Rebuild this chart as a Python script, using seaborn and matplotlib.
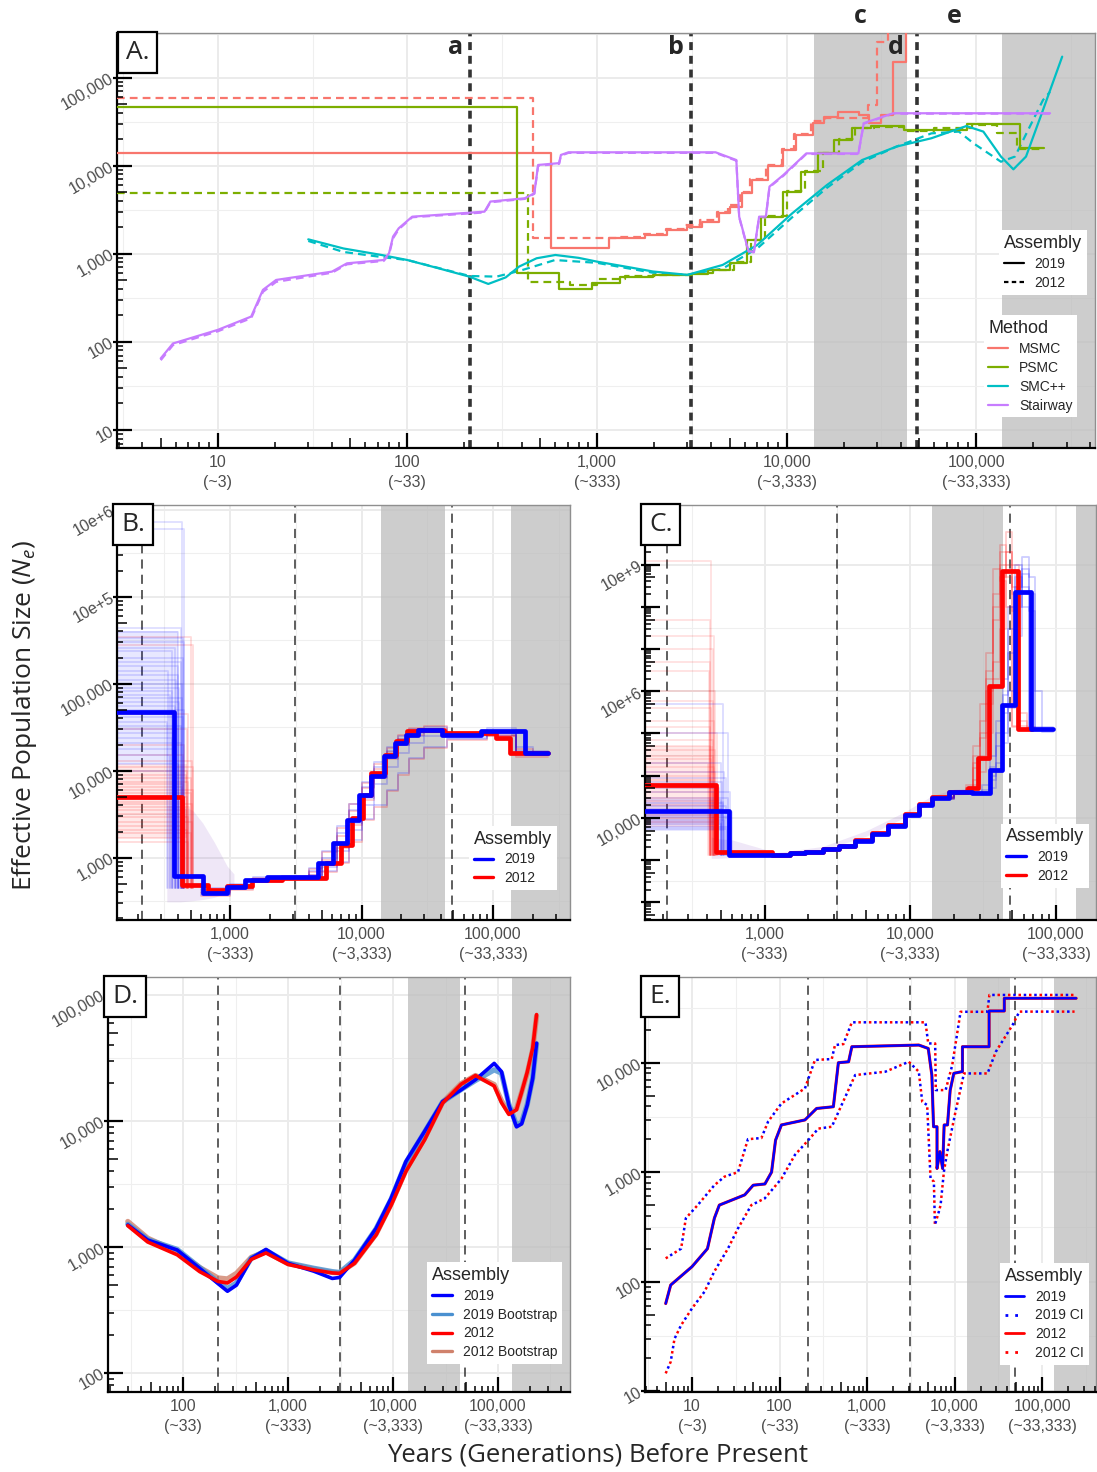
import numpy as np
import seaborn as sns
import matplotlib.pyplot as plt
from matplotlib.lines import Line2D
from matplotlib.ticker import NullFormatter
from matplotlib.transforms import blended_transform_factory as blend

# ------------------------------------------------------------------ data
# time markers (years) and shaded periods shared by all panels
mark_a, mark_b, mark_d = 214, 3125, 48500
zone_c = (14000, 43300)
zone_e = (136000, 5e6)
label_c, label_e = 24600, 76600

# panel A : MSMC (step curves)
msmc19_t = [2.5, 575, 1160, 1800, 2340, 3000, 3560, 4400, 5000, 5800, 6580, 7950, 9600, 11200,
            13800, 15700, 18550, 24000, 27200, 31500, 36600, 42800, 42800]
msmc19_v = [14100, 1155, 1500, 1640, 1860, 2040, 2320, 2880, 3440, 4860, 6890, 10000, 15000, 22400,
            30300, 36000, 41100, 37700, 30300, 37700, 151000, 1e7, 1e7]
msmc12_t = [2.5, 462, 1300, 1750, 2300, 2900, 3500, 4300, 4900, 5700, 6400, 7800, 9400, 11000,
            13500, 16000, 27000, 29800, 34400, 34400]
msmc12_v = [59300, 1500, 1560, 1700, 1900, 2100, 2400, 2950, 3600, 5000, 7000, 10300, 15500, 23000,
            32000, 35000, 49000, 254000, 1e7, 1e7]
# panel A : PSMC (step curves)
psmc19_t = [2.5, 380, 630, 938, 1320, 1970, 3130, 3870, 5000, 6170, 7300, 9600, 11900, 14700,
            17800, 22000, 27700, 41500, 89000, 171000, 229000]
psmc19_v = [46000, 611, 395, 470, 550, 575, 590, 656, 780, 1440, 2640, 5080, 8570, 13800,
            19600, 26600, 28200, 25500, 29800, 15800, 15800]
psmc12_t = [2.5, 431, 720, 1000, 1400, 2100, 3300, 4100, 5300, 6500, 7700, 10100, 12500, 15500,
            18800, 23000, 29000, 41500, 60000, 95000, 128000, 165000, 229000]
psmc12_v = [4860, 483, 440, 520, 560, 580, 600, 660, 800, 1450, 2700, 5100, 8700, 14000,
            20000, 26500, 27500, 25000, 26500, 29000, 23500, 15500, 15500]
# panel A : SMC++ (smooth curves)
smc19_x = [30, 46, 73, 100, 146, 212, 267, 330, 388, 480, 603, 800, 1000, 1500, 1970, 3000, 4600,
           7000, 10700, 16300, 25000, 38000, 58000, 88700, 109000, 135000, 157000, 183000, 225000, 284000]
smc19_y = [1460, 1150, 970, 850, 685, 551, 455, 540, 716, 890, 970, 900, 815, 700, 630, 577, 748,
           1260, 2880, 6030, 11600, 16500, 20500, 28200, 24400, 12700, 9100, 12700, 43000, 173000]
smc12_x = [30, 46, 73, 100, 146, 213, 295, 390, 600, 1000, 1970, 3000, 4600, 7000, 10700, 16300,
           25000, 38000, 58000, 81000, 96600, 135000, 160000, 225000, 245000]
smc12_y = [1400, 1050, 920, 850, 690, 560, 551, 640, 850, 790, 610, 577, 680, 1150, 2600, 5600,
           11000, 16500, 23300, 24400, 18000, 11100, 12700, 55700, 69000]
# panel A : Stairway
stair_x = [5.0, 5.8, 10, 15, 17.3, 20.3, 40, 48, 75, 80, 84, 90, 106, 255, 274, 416, 467, 489, 631,
           645, 707, 4220, 5430, 5620, 6300, 6720, 7160, 7770, 8120, 9620, 12700, 23900, 25500, 36500, 245000]
stair19_y = [65, 96, 137, 194, 390, 505, 628, 780, 851, 1014, 1570, 1950, 2640, 3010, 3920, 4270, 4870,
             10200, 10700, 13250, 14200, 14200, 11600, 2640, 1060, 1060, 2640, 2640, 5800, 7850, 13800,
             13800, 30400, 39400, 39400]
stair12_y = [62, 92, 132, 186, 370, 480, 610, 760, 830, 980, 1500, 1900, 2600, 2950, 3850, 4200, 4800,
             10000, 10500, 13000, 14000, 14000, 11400, 2600, 1040, 1040, 2600, 2600, 5700, 7700, 13600,
             13600, 30000, 39000, 39000]

# panel B : PSMC with bootstraps
b19_t = [100, 374, 627, 940, 1300, 1900, 4700, 6100, 7700, 9500, 11700, 14700, 17900, 21600, 27000,
         41000, 81000, 176000, 260000]
b19_v = [47500, 614, 388, 462, 550, 600, 860, 1460, 2720, 5300, 8600, 14600, 21000, 26000, 29700,
         26000, 28500, 16000, 16000]
b12_t = [100, 431, 680, 950, 1470, 2500, 5400, 7000, 8500, 10300, 11700, 15200, 18400, 22300, 27000,
         42500, 105000, 135000, 260000]
b12_v = [4970, 485, 420, 470, 560, 590, 860, 1400, 2840, 5300, 9400, 15300, 21800, 28400, 29700,
         27200, 24000, 16000, 16000]
# bootstrap replicates, oldest plateau level and the time of its drop
b19_boot_lvl = [7.2e6, 6.0e6, 4.4e5, 3.9e5, 3.4e5, 3.0e5, 2.6e5, 2.4e5, 2.0e5, 1.8e5, 1.6e5, 1.4e5,
                1.25e5, 1.1e5, 1.0e5, 9.0e4, 8.2e4, 7.5e4, 6.8e4, 6.2e4, 5.5e4, 5.0e4, 4.2e4, 3.6e4,
                3.3e4, 3.0e4, 2.7e4, 2.4e4, 2.1e4, 1.8e4, 1.5e4, 1.2e4, 1.0e4]
b19_boot_drop = [430, 450, 420, 400, 440, 450, 380, 360, 440, 420, 400, 340, 400, 390, 430, 410, 360,
                 350, 430, 410, 380, 450, 440, 330, 420, 400, 370, 360, 420, 390, 350, 400, 380]
b12_boot_lvl = [3.5e5, 2.8e5, 4.5e4, 3.0e4, 2.0e4, 1.5e4, 1.3e4, 1.1e4, 1.0e4, 9.0e3, 8.2e3, 7.5e3,
                7.0e3, 6.5e3, 6.0e3, 5.5e3, 5.0e3, 4.4e3, 4.1e3, 3.8e3, 3.5e3, 3.2e3, 2.9e3, 2.6e3,
                2.3e3, 2.1e3, 1.9e3, 1.7e3, 1.5e3]
b12_boot_drop = [500, 520, 480, 470, 450, 440, 510, 520, 470, 460, 500, 480, 440, 430, 520, 500, 470,
                 450, 510, 490, 460, 420, 480, 510, 450, 470, 500, 440, 480]
b_floor = 450
b19_haze = (1.2e4, 4.0e5, 400)      # low, high, end time of the dense left band
b12_haze = (1.7e3, 1.2e4, 470)
b_env_t = [330, 420, 520, 620, 760, 950, 1070]
b_env_lo = [310, 310, 320, 330, 350, 400, 450]
b_env_hi = [4000, 4000, 3500, 2500, 1500, 800, 650]
# bootstrap replicates after the drop (same time grid)
b_boot_t = [600, 1000, 1500, 2500, 4000, 5000, 6500, 8000, 10000, 12500, 15500, 19000, 23000, 30000,
            45000, 90000, 150000, 200000, 260000]
b19_boot_mid = [
    [420, 480, 560, 600, 700, 1000, 1900, 3500, 6500, 11000, 17000, 23000, 27000, 29000, 26000, 29000, 17000, 16000, 16000],
    [380, 450, 540, 590, 640, 850, 1400, 2500, 4800, 8500, 14000, 20000, 25000, 28000, 25000, 27000, 16000, 15500, 15500],
    [400, 470, 550, 580, 600, 700, 900, 1600, 2800, 4000, 6000, 9500, 14000, 19000, 23000, 27000, 15000, 15000, 15000],
    [450, 500, 600, 620, 760, 1200, 2300, 4200, 7500, 12500, 19000, 25000, 30000, 32000, 27000, 31000, 19000, 17000, 17000],
    [370, 440, 520, 570, 620, 780, 1200, 2100, 4000, 7000, 11000, 16000, 21000, 25000, 24000, 26000, 15500, 15000, 15000],
]
b12_boot_mid = [
    [400, 460, 540, 590, 680, 950, 1800, 3400, 6300, 10500, 16500, 23000, 28000, 30000, 27000, 26000, 16500, 16000, 16000],
    [360, 430, 520, 580, 630, 820, 1300, 2400, 4600, 8200, 13500, 20000, 26000, 29000, 26000, 25000, 15500, 15500, 15500],
    [390, 460, 540, 570, 590, 690, 880, 1500, 2700, 3800, 5800, 9000, 13500, 18500, 22500, 25000, 14500, 14500, 14500],
    [430, 490, 590, 610, 740, 1150, 2200, 4100, 7300, 12000, 18500, 25500, 31000, 33000, 28000, 28000, 18000, 16500, 16500],
]

# panel C : MSMC with bootstraps
c19_t = [140, 566, 1150, 1500, 1900, 2500, 3240, 4200, 5450, 7000, 9200, 11500, 14000, 18300, 26500,
         35000, 42400, 52500, 67600, 96000]
c19_v = [14400, 1290, 1330, 1450, 1550, 1800, 2100, 2900, 4240, 6500, 11600, 20000, 29000, 41700, 38000,
         136000, 4.8e6, 2.2e9, 1.26e6, 1.26e6]
c12_t = [140, 464, 1120, 1500, 1900, 2500, 3240, 4200, 5450, 7000, 9200, 11500, 14000, 18300, 25000,
         29300, 34600, 42500, 55000, 68000]
c12_v = [60000, 1550, 1330, 1450, 1550, 1800, 2100, 3000, 4400, 6900, 12200, 21000, 31000, 42000, 50000,
         258000, 1.3e7, 7.2e9, 1.26e6, 1.26e6]
c12_boot_lvl = [1.2e10, 5e8, 2e8, 1e8, 5e7, 3e7, 1e7, 6e6, 4e6, 2e6, 1.4e6, 1e6, 7e5, 5e5, 4e5, 3e5,
                2.5e5, 2e5, 1.6e5, 1.2e5, 1e5, 8e4, 6.5e4, 5e4, 4e4, 3e4, 2.5e4, 2e4, 1.5e4, 1.2e4, 1e4, 8e3]
c12_boot_drop = [430, 420, 450, 440, 425, 415, 460, 440, 430, 450, 420, 470, 440, 425, 460, 445, 430,
                 410, 450, 460, 425, 435, 470, 450, 440, 420, 455, 470, 430, 440, 465, 455]
c19_boot_lvl = [5e6, 1e6, 2e5, 1.2e5, 9e4, 7e4, 5e4, 4e4, 3e4, 2.6e4, 2.2e4, 1.9e4, 1.6e4, 1.4e4, 1.2e4,
                1.05e4, 9e3, 8e3, 7e3, 6.2e3, 5.5e3]
c19_boot_drop = [520, 560, 500, 530, 540, 510, 490, 580, 560, 500, 520, 540, 510, 600, 530, 560, 530,
                 500, 500, 570, 550]
c_floor = 1300
c12_haze = (6e3, 5e5, 440)
c19_haze = (5e3, 2.5e4, 530)
c_env_t = [430, 480, 600, 1200, 2500, 5000, 9000, 14000, 20000, 24000]
c_env_lo = [1100, 1100, 1150, 1250, 1700, 3700, 10000, 25000, 35000, 36000]
c_env_hi = [3500, 3200, 3000, 1500, 2100, 5000, 13500, 33000, 48000, 50000]
# bootstrap replicates around the ancient peak
c12_boot_t = [14000, 20000, 24000, 27000, 30000, 33000, 37000, 41000, 45000, 50000, 56000, 63000, 72000]
c12_boot_peak = [
    [29000, 42000, 45000, 1.5e5, 8e5, 3e7, 2e9, 3e10, 2e10, 2e9, 1.3e6, 1.3e6, 1.3e6],
    [31000, 43000, 52000, 3e5, 2e6, 1e7, 1e9, 1e10, 5e9, 1.5e6, 1.2e6, 1.2e6, 1.2e6],
    [30000, 41000, 48000, 80000, 3e5, 5e6, 5e7, 5e9, 6e10, 1e10, 2e6, 1.4e6, 1.4e6],
    [32000, 44000, 60000, 5e5, 5e6, 8e7, 8e9, 4e9, 1e9, 1.4e6, 1.3e6, 1.3e6, 1.3e6],
    [28000, 40000, 43000, 60000, 1.2e5, 1e6, 2e7, 3e8, 2e10, 3e9, 3e6, 1.3e6, 1.3e6],
    [30000, 42000, 50000, 2e5, 1e6, 2e7, 5e8, 2e10, 1e10, 8e8, 1.5e6, 1.3e6, 1.3e6],
]
c19_boot_t = [14000, 20000, 26000, 31000, 35000, 39000, 43000, 47000, 52000, 58000, 65000, 72000, 80000, 96000]
c19_boot_peak = [
    [28000, 40000, 37000, 40000, 1e5, 5e5, 3e6, 8e7, 1e10, 3e9, 1.2e6, 1.2e6, 1.2e6, 1.2e6],
    [30000, 42000, 39000, 60000, 3e5, 2e6, 2e7, 1e9, 5e9, 1e9, 8e8, 1.3e6, 1.3e6, 1.3e6],
    [29000, 41000, 38000, 38000, 80000, 2e5, 1e6, 1e7, 1e9, 1.5e10, 2e9, 1e7, 1.3e6, 1.3e6],
    [31000, 43000, 40000, 45000, 1.6e5, 1e6, 8e6, 3e8, 3e9, 6e9, 1.4e6, 1.4e6, 1.4e6, 1.4e6],
    [28000, 39000, 36000, 36000, 50000, 1.2e5, 6e5, 4e6, 2e8, 8e9, 5e9, 1.2e6, 1.1e6, 1.1e6],
]

# panel D : SMC++ with bootstraps
d_t = [29.8, 46, 88, 144, 215, 265, 323, 447, 617, 1000, 1760, 2640, 3100, 4300, 6900, 9600, 13300,
       20000, 29700, 44500, 61000, 92000, 108000, 127000, 150000, 168000, 190000, 214000, 233000]
d19 = [1500, 1140, 950, 680, 515, 447, 500, 815, 960, 745, 645, 565, 575, 790, 1410, 2450, 4800,
       8300, 14300, 17700, 21300, 28700, 24700, 13400, 9000, 9500, 13400, 21800, 41500]
d19_boot = [1520, 1150, 960, 690, 530, 470, 520, 820, 940, 750, 680, 640, 630, 790, 1400, 2400, 4700,
            8200, 14200, 17800, 21000, 25500, 24000, 13600, 9300, 9800, 13600, 22000, 41000]
d12 = [1480, 1100, 870, 640, 535, 520, 580, 800, 900, 730, 660, 625, 620, 745, 1250, 2150, 4000,
       7100, 13900, 19600, 23000, 19000, 14000, 11300, 12300, 17000, 24500, 38000, 70000]
d12_boot = [1600, 1180, 920, 690, 570, 560, 620, 830, 920, 740, 670, 630, 625, 750, 1270, 2200, 4100,
            7300, 14100, 19800, 23000, 19500, 14500, 11600, 12500, 17000, 24000, 37000, 68000]

# panel E : Stairway with confidence intervals (2012 reads the same as 2019)
e_x = [5.0, 5.7, 10, 15, 18, 20.5, 40, 50, 68, 81, 90, 105, 195, 265, 412, 470, 615, 670, 3900, 5000,
       5500, 5750, 6300, 6300, 6800, 7300, 7600, 8300, 8900, 9800, 12300, 12300, 24800, 24800, 37000,
       37000, 245000]
e_y = [63, 93, 137, 200, 380, 500, 620, 760, 780, 1000, 1960, 2700, 3000, 3820, 3960, 10000, 10200,
       14000, 14500, 13500, 7700, 2600, 2600, 1080, 1540, 1080, 2700, 2700, 5600, 8000, 8300, 14000,
       14000, 29700, 29700, 38800, 38800]
eu_x = [5.0, 7.5, 8.5, 11.6, 18, 23.5, 33.5, 43.5, 62, 74, 105, 195, 254, 395, 430, 537, 670, 4650,
        5000, 6000, 6100, 7900, 9400, 11700, 23700, 25000, 235000]
eu_y = [163, 200, 380, 500, 760, 910, 1000, 2000, 2050, 2900, 4240, 5820, 10600, 10800, 14500, 14800,
        23400, 23400, 15000, 15000, 5620, 5620, 9500, 29200, 29200, 41600, 41600]
el_x = [5.0, 5.7, 6.3, 7.5, 10, 13.9, 18, 25.7, 33.4, 47.6, 67.6, 105, 150, 213, 277, 395, 731, 1620,
        3000, 3900, 4270, 4860, 5310, 5800, 5960, 6610, 6920, 7550, 8250, 10240, 12800, 23800, 29600,
        45800, 55000, 235000]
el_y = [14.5, 18.5, 30, 40, 57, 81, 124, 200, 305, 500, 575, 870, 1440, 1960, 2500, 2600, 7710, 8280,
        10200, 8280, 4400, 4100, 877, 818, 329, 436, 500, 1010, 1540, 3560, 7980, 7980, 12600, 22000,
        29300, 29300]

# ------------------------------------------------------------------ style
sns.set_theme(style="white")
plt.rcParams['font.family'] = ['Liberation Sans', 'DejaVu Sans']
plt.rcParams['mathtext.fontset'] = 'custom'
plt.rcParams['mathtext.rm'] = 'Open Sans'
plt.rcParams['mathtext.it'] = 'Open Sans:italic'

C_MSMC, C_PSMC, C_SMC, C_STAIR = '#F8766D', '#7CAE00', '#00BFC4', '#C77CFF'
BLUE, RED = '#0000FF', '#FF0000'
W, H = 1097, 1472
TXT = '#4D4D4D'


def add_ax(fig, left, top, right, bottom):
    return fig.add_axes([left / W, 1 - bottom / H, (right - left) / W, (bottom - top) / H])


def logticks(ax, xlim, ylim, wpx, hpx):
    def vals(lo, hi):
        out = []
        for e in range(int(np.floor(np.log10(lo))), int(np.ceil(np.log10(hi))) + 1):
            for m in range(1, 10):
                v = m * 10.0 ** e
                if lo <= v <= hi:
                    out.append((v, m))
        return out
    tx = blend(ax.transData, ax.transAxes)
    ty = blend(ax.transAxes, ax.transData)
    for v, m in vals(*xlim):
        L = 15 if m == 1 else (10 if m == 5 else 6)
        ax.plot([v, v], [0, L / hpx], transform=tx, color='black', lw=1.6 if m == 1 else 1.1,
                clip_on=False, solid_capstyle='butt', zorder=6)
    for v, m in vals(*ylim):
        L = 15 if m == 1 else (10 if m == 5 else 6)
        x0 = -4 / wpx if m == 1 else 0
        ax.plot([x0, L / wpx], [v, v], transform=ty, color='black', lw=1.6 if m == 1 else 1.1,
                clip_on=False, solid_capstyle='butt', zorder=6)


def setup(ax, xlim, ylim, xt, xtl, yt, ytl, ygrid_minor, wpx, hpx, dash_lw=1.1, dash=(6, 4)):
    ax.set_xscale('log')
    ax.set_yscale('log')
    ex = np.arange(np.floor(np.log10(xlim[0])), np.ceil(np.log10(xlim[1])) + 1)
    ax.set_xticks(xt, xtl)
    ax.set_xticks(10 ** (ex + 0.5), minor=True)
    ax.set_yticks(yt, ytl)
    ax.set_yticks(ygrid_minor, minor=True)
    ax.xaxis.set_minor_formatter(NullFormatter())
    ax.yaxis.set_minor_formatter(NullFormatter())
    ax.grid(True, which='major', color='#EBEBEB', lw=1.4)
    ax.grid(True, which='minor', color='#EFEFEF', lw=0.8)
    ax.set_axisbelow(True)
    ax.tick_params(which='both', length=0, labelsize=11.5, labelcolor=TXT)
    ax.tick_params(axis='x', pad=5)
    ax.tick_params(axis='y', pad=3)
    for lab in ax.get_yticklabels():
        lab.set(rotation=30, ha='right', va='center', rotation_mode='anchor')
    for lab in ax.get_xticklabels():
        lab.set(linespacing=1.45, multialignment='center')
    for s in ['left', 'bottom']:
        ax.spines[s].set(color='black', lw=1.6)
    for s in ['top', 'right']:
        ax.spines[s].set(color='#8F8F8F', lw=1.0)
    for lo, hi in (zone_c, zone_e):
        ax.axvspan(lo, hi, color='#BDBDBD', alpha=0.75, lw=0, zorder=1)
    for t in (mark_a, mark_b, mark_d):
        ax.axvline(t, color='#333333', lw=dash_lw, linestyle=(0, dash), zorder=2)
    ax.set_xlim(xlim)
    ax.set_ylim(ylim)
    logticks(ax, xlim, ylim, wpx, hpx)
    ax.set_xlim(xlim)
    ax.set_ylim(ylim)


def line(ax, x, y, color, lw, ls='-', step=False, alpha=1.0, z=3):
    kw = dict(drawstyle='steps-post') if step else {}
    sns.lineplot(x=x, y=y, ax=ax, color=color, lw=lw, linestyle=ls, estimator=None, sort=False,
                 legend=False, alpha=alpha, zorder=z, **kw)


def panel_label(ax, s):
    ax.text(0.009, 0.984, s, transform=ax.transAxes, ha='left', va='top', fontsize=19,
            family='Open Sans', zorder=10,
            bbox=dict(boxstyle='square,pad=0.3', fc='white', ec='black', lw=1.6))


def legend(ax, handles, labels, title, anchor, loc='lower right'):
    lg = ax.legend(handles, labels, title=title, loc=loc, bbox_to_anchor=anchor, frameon=True,
                   facecolor='white', edgecolor='none', framealpha=1, fancybox=False, fontsize=10,
                   title_fontsize=13, handlelength=1.4, borderpad=0.35, labelspacing=0.35,
                   handletextpad=0.8, alignment='left', borderaxespad=0)
    lg.set_zorder(9)
    return lg


def boot_left(ax, left, lvls, drops, floor, color, alpha, haze):
    lo, hi, end = haze
    ax.fill_between([left, end], [lo, lo], [hi, hi], color=color, alpha=0.09, lw=0, zorder=2.4)
    for lv, dr in zip(lvls, drops):
        ax.plot([left, dr, dr], [lv, lv, floor], color=color, lw=1.3, alpha=alpha, zorder=2.5)


def boot_rows(ax, t, rows, color, alpha):
    for r in rows:
        ax.plot(t, r, color=color, lw=1.3, alpha=alpha, drawstyle='steps-post', zorder=2.6)


xl_A = ['10\n(~3)', '100\n(~33)', '1,000\n(~333)', '10,000\n(~3,333)', '100,000\n(~33,333)']
xv_A = [10, 100, 1000, 10000, 100000]
half = lambda lo, hi: [10 ** (k + 0.5) for k in range(lo, hi)]

fig = plt.figure(figsize=(W / 100, H / 100), dpi=100)

# ------------------------------------------------------------------ panel A
axA = add_ax(fig, 117, 33, 1095, 448)
limA = ((2.94, 423000), (6.25, 321000))
setup(axA, *limA, xv_A, xl_A, [10, 100, 1000, 1e4, 1e5], ['10', '100', '1,000', '10,000', '100,000'],
      half(0, 6), 978, 415, dash_lw=2.6, dash=(2.2, 1.6))
dsh = (0, (3.5, 2.3))
line(axA, msmc12_t, msmc12_v, C_MSMC, 1.6, dsh, step=True)
line(axA, psmc12_t, psmc12_v, C_PSMC, 1.6, dsh, step=True)
line(axA, smc12_x, smc12_y, C_SMC, 1.6, dsh)
line(axA, stair_x, stair12_y, C_STAIR, 1.6, dsh)
line(axA, msmc19_t, msmc19_v, C_MSMC, 1.6, step=True)
line(axA, psmc19_t, psmc19_v, C_PSMC, 1.6, step=True)
line(axA, smc19_x, smc19_y, C_SMC, 1.6)
line(axA, stair_x, stair19_y, C_STAIR, 1.6)
axA.set_xlim(limA[0]); axA.set_ylim(limA[1])
panel_label(axA, 'A.')
bt = blend(axA.transData, axA.transAxes)
for s, t, off in (('a', mark_a, -5), ('b', mark_b, -5), ('d', mark_d, -9)):
    axA.annotate(s, xy=(t, 0.964), xycoords=bt, xytext=(off, 0), textcoords='offset points',
                 ha='right', va='center', fontsize=18, fontweight='bold', family='Open Sans', zorder=10)
for s, t in (('c', label_c), ('e', label_e)):
    axA.text(t, 1.0386, s, transform=bt, ha='center', va='center', fontsize=18, fontweight='bold',
             family='Open Sans', clip_on=False)
lg1 = legend(axA, [Line2D([], [], color='black', lw=1.6),
                   Line2D([], [], color='black', lw=1.6, linestyle=(0, (2, 1.5)))],
             ['2019', '2012'], 'Assembly', (0.992, 0.525), loc='upper right')
axA.add_artist(lg1)
legend(axA, [Line2D([], [], color=c, lw=1.6) for c in (C_MSMC, C_PSMC, C_SMC, C_STAIR)],
       ['MSMC', 'PSMC', 'SMC++', 'Stairway'], 'Method', (0.982, 0.32), loc='upper right')

# ------------------------------------------------------------------ panel B
axB = add_ax(fig, 117, 505, 570, 920)
limB = ((138, 385000), (192, 1.14e7))
setup(axB, *limB, [1000, 10000, 100000], xl_A[2:], [1e3, 1e4, 1e5, 1e6, 1e7],
      ['1,000', '10,000', '100,000', '10e+5', '10e+6'], half(2, 7), 453, 415)
axB.fill_between(b_env_t, b_env_lo, b_env_hi, color='#8040C0', alpha=0.12, lw=0, zorder=2.4)
boot_left(axB, limB[0][0], b12_boot_lvl, b12_boot_drop, b_floor, RED, 0.14, b12_haze)
boot_left(axB, limB[0][0], b19_boot_lvl, b19_boot_drop, b_floor, BLUE, 0.13, b19_haze)
boot_rows(axB, b_boot_t, b12_boot_mid, RED, 0.22)
boot_rows(axB, b_boot_t, b19_boot_mid, BLUE, 0.2)
line(axB, b12_t, b12_v, RED, 3.4, step=True, z=4)
line(axB, b19_t, b19_v, BLUE, 3.4, step=True, z=4.5)
axB.set_xlim(limB[0]); axB.set_ylim(limB[1])
panel_label(axB, 'B.')
legend(axB, [Line2D([], [], color=BLUE, lw=2.4), Line2D([], [], color=RED, lw=2.4)],
       ['2019', '2012'], 'Assembly', (0.971, 0.072))

# ------------------------------------------------------------------ panel C
axC = add_ax(fig, 645, 505, 1096, 920)
limC = ((151, 188000), (38, 2.6e11))
setup(axC, *limC, [1000, 10000, 100000], xl_A[2:], [1e4, 1e7, 1e10],
      ['10,000', '10e+6', '10e+9'], [10 ** 2.5, 10 ** 5.5, 10 ** 8.5], 451, 415)
axC.fill_between(c_env_t, c_env_lo, c_env_hi, color='#8040C0', alpha=0.12, lw=0, zorder=2.4)
boot_left(axC, limC[0][0], c12_boot_lvl, c12_boot_drop, c_floor, RED, 0.12, c12_haze)
boot_left(axC, limC[0][0], c19_boot_lvl, c19_boot_drop, c_floor, BLUE, 0.14, c19_haze)
boot_rows(axC, c12_boot_t, c12_boot_peak, RED, 0.2)
boot_rows(axC, c19_boot_t, c19_boot_peak, BLUE, 0.2)
line(axC, c12_t, c12_v, RED, 3.4, step=True, z=4)
line(axC, c19_t, c19_v, BLUE, 3.4, step=True, z=4.5)
axC.set_xlim(limC[0]); axC.set_ylim(limC[1])
panel_label(axC, 'C.')
legend(axC, [Line2D([], [], color=BLUE, lw=2.4), Line2D([], [], color=RED, lw=2.4)],
       ['2019', '2012'], 'Assembly', (0.985, 0.077))

# ------------------------------------------------------------------ panel D
axD = add_ax(fig, 108, 977, 570, 1392)
limD = ((19.3, 485000), (71, 139000))
setup(axD, *limD, [100, 1000, 10000, 100000], xl_A[1:], [100, 1000, 1e4, 1e5],
      ['100', '1,000', '10,000', '100,000'], half(1, 6), 462, 415)
C_B19, C_B12 = '#4A90D0', '#D0826C'
line(axD, d_t, d12_boot, C_B12, 3.8, alpha=0.8, z=3)
line(axD, d_t, d19_boot, C_B19, 3.8, alpha=0.8, z=3.1)
line(axD, d_t, d19, BLUE, 2.6, z=4)
line(axD, d_t, d12, RED, 2.6, z=4.5)
axD.set_xlim(limD[0]); axD.set_ylim(limD[1])
panel_label(axD, 'D.')
legend(axD, [Line2D([], [], color=c, lw=2.4) for c in (BLUE, C_B19, RED, C_B12)],
       ['2019', '2019 Bootstrap', '2012', '2012 Bootstrap'], 'Assembly', (0.983, 0.067))

# ------------------------------------------------------------------ panel E
axE = add_ax(fig, 645, 977, 1096, 1392)
limE = ((2.9, 413000), (9.8, 60700))
setup(axE, *limE, xv_A, xl_A, [10, 100, 1000, 1e4], ['10', '100', '1,000', '10,000'],
      half(0, 5), 451, 415)
dot_r, dot_b = (0, (1, 3.2)), (2.1, (1, 3.2))
line(axE, e_x, e_y, RED, 2.2, z=3)
line(axE, eu_x, eu_y, RED, 1.8, dot_r, z=3)
line(axE, el_x, el_y, RED, 1.8, dot_r, z=3)
line(axE, e_x, e_y, BLUE, 1.7, z=4)
line(axE, eu_x, eu_y, BLUE, 1.8, dot_b, z=4)
line(axE, el_x, el_y, BLUE, 1.8, dot_b, z=4)
axE.set_xlim(limE[0]); axE.set_ylim(limE[1])
panel_label(axE, 'E.')
legend(axE, [Line2D([], [], color=BLUE, lw=2), Line2D([], [], color=BLUE, lw=2, linestyle=(0, (1, 2.5))),
             Line2D([], [], color=RED, lw=2), Line2D([], [], color=RED, lw=2, linestyle=(0, (1, 2.5)))],
       ['2019', '2019 CI', '2012', '2012 CI'], 'Assembly', (0.985, 0.065))

# ------------------------------------------------------------------ shared labels
fig.text(25 / W, 1 - 715 / H, r'Effective Population Size ($\mathit{N_e}$)', rotation=90,
         ha='center', va='center', fontsize=19, family='Open Sans')
fig.text(598 / W, 1 - 1455 / H, 'Years (Generations) Before Present', ha='center', va='center',
         fontsize=18.5, family='Open Sans')

fig.savefig('out.png', dpi=100)
